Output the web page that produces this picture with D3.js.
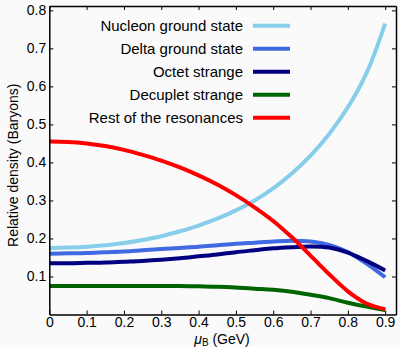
<!DOCTYPE html>
<html>
<head>
<meta charset="utf-8">
<script src="https://cdn.jsdelivr.net/npm/d3@7"></script>
<style>
body { margin: 0; background: #fafafa; }
svg { display: block; font-family: "Liberation Sans", Arial, sans-serif; }
</style>
</head>
<body>
<div class="chart"></div>
<script>
var muB = [0, 0.05, 0.1, 0.15, 0.2, 0.25, 0.3, 0.35, 0.4, 0.45, 0.5, 0.55, 0.6, 0.65, 0.7, 0.75, 0.8, 0.85, 0.9];

var nucleon = [0.175, 0.176, 0.178, 0.182, 0.188, 0.196, 0.206, 0.219, 0.234, 0.252, 0.274, 0.300, 0.332, 0.371, 0.418, 0.475, 0.545, 0.635, 0.765];
var delta = [0.160, 0.161, 0.162, 0.164, 0.166, 0.169, 0.172, 0.175, 0.178, 0.182, 0.186, 0.189, 0.192, 0.194, 0.192, 0.183, 0.164, 0.134, 0.098];
var octet = [0.135, 0.135, 0.136, 0.137, 0.139, 0.141, 0.144, 0.148, 0.153, 0.158, 0.164, 0.169, 0.174, 0.177, 0.179, 0.176, 0.163, 0.141, 0.116];
var decuplet = [0.075, 0.075, 0.075, 0.075, 0.075, 0.075, 0.075, 0.075, 0.074, 0.073, 0.071, 0.068, 0.065, 0.060, 0.052, 0.043, 0.031, 0.021, 0.012];
var rest = [0.455, 0.454, 0.450, 0.443, 0.433, 0.420, 0.405, 0.387, 0.366, 0.342, 0.314, 0.282, 0.246, 0.203, 0.155, 0.106, 0.061, 0.029, 0.014];

var seriesNames = ["Nucleon ground state", "Delta ground state", "Octet strange", "Decuplet strange", "Rest of the resonances"];
var seriesColors = ["#87ceeb", "#4169e1", "#000080", "#006400", "#ff0000"];
var seriesValues = [nucleon, delta, octet, decuplet, rest];

var xTicks = [0, 0.1, 0.2, 0.3, 0.4, 0.5, 0.6, 0.7, 0.8, 0.9];
var yTicks = [0.1, 0.2, 0.3, 0.4, 0.5, 0.6, 0.7, 0.8];

var options = {
    width: 400,
    height: 347,
    left: 49.3,
    right: 396,
    top: 6,
    bottom: 314.5
};

var svg = d3.select(".chart").append("svg")
    .attr("width", options.width)
    .attr("height", options.height);

var xScale = d3.scaleLinear().domain([0, 0.929]).range([options.left, options.right]);
var yScale = d3.scaleLinear().domain([0, 0.8115]).range([options.bottom, options.top]);

var line = d3.line()
    .x(function (d) { return xScale(d[0]); })
    .y(function (d) { return yScale(d[1]); })
    .curve(d3.curveCatmullRom.alpha(0.5));

// curves
seriesValues.forEach(function (vals, i) {
    svg.append("path")
        .datum(muB.map(function (m, j) { return [m, vals[j]]; }))
        .attr("fill", "none")
        .attr("stroke", seriesColors[i])
        .attr("stroke-width", 4)
        .attr("d", line);
});

// axes (ticks inward on all sides)
var fmt = function (d) { return d === 0 ? "0" : d3.format(".1f")(d); };

var xAxis = svg.append("g")
    .attr("transform", "translate(0," + options.bottom + ")")
    .call(d3.axisBottom(xScale).tickValues(xTicks).tickSizeInner(-4).tickSizeOuter(0).tickPadding(3).tickFormat(fmt));
var xTop = svg.append("g")
    .attr("transform", "translate(0," + options.top + ")")
    .call(d3.axisTop(xScale).tickValues(xTicks).tickSizeInner(-4).tickSizeOuter(0).tickFormat(""));
var yAxis = svg.append("g")
    .attr("transform", "translate(" + options.left + ",0)")
    .call(d3.axisLeft(yScale).tickValues(yTicks).tickSizeInner(-4).tickSizeOuter(0).tickPadding(3).tickFormat(fmt));
var yRight = svg.append("g")
    .attr("transform", "translate(" + options.right + ",0)")
    .call(d3.axisRight(yScale).tickValues(yTicks).tickSizeInner(-4).tickSizeOuter(0).tickFormat(""));

[xAxis, xTop, yAxis, yRight].forEach(function (g) {
    g.select(".domain").attr("stroke", "#000").attr("stroke-width", 1.5);
    g.selectAll(".tick line").attr("stroke", "#000").attr("stroke-width", 1);
    g.selectAll("text")
        .attr("font-family", "'Liberation Sans', Arial, sans-serif")
        .attr("font-size", "14px")
        .attr("fill", "#000");
});

// legend
var legend = svg.append("g");
seriesNames.forEach(function (name, i) {
    var y = 25.7 + i * 23;
    legend.append("text")
        .attr("x", 243)
        .attr("y", y + 5)
        .attr("text-anchor", "end")
        .attr("font-size", "15px")
        .attr("fill", "#000")
        .text(name);
    legend.append("line")
        .attr("x1", 253).attr("x2", 290)
        .attr("y1", y).attr("y2", y)
        .attr("stroke", seriesColors[i])
        .attr("stroke-width", 4);
});

// axis labels
svg.append("text")
    .attr("transform", "translate(18," + ((options.top + options.bottom) / 2 + 5) + ") rotate(-90)")
    .attr("text-anchor", "middle")
    .attr("font-size", "14px")
    .attr("fill", "#000")
    .text("Relative density (Baryons)");

svg.append("text")
    .attr("x", 222)
    .attr("y", 343.5)
    .attr("text-anchor", "middle")
    .attr("font-size", "14px")
    .attr("fill", "#000")
    .html('<tspan font-style="italic">μ</tspan><tspan font-size="10px" dy="2">B</tspan><tspan dy="-2"> (GeV)</tspan>');
</script>
</body>
</html>
